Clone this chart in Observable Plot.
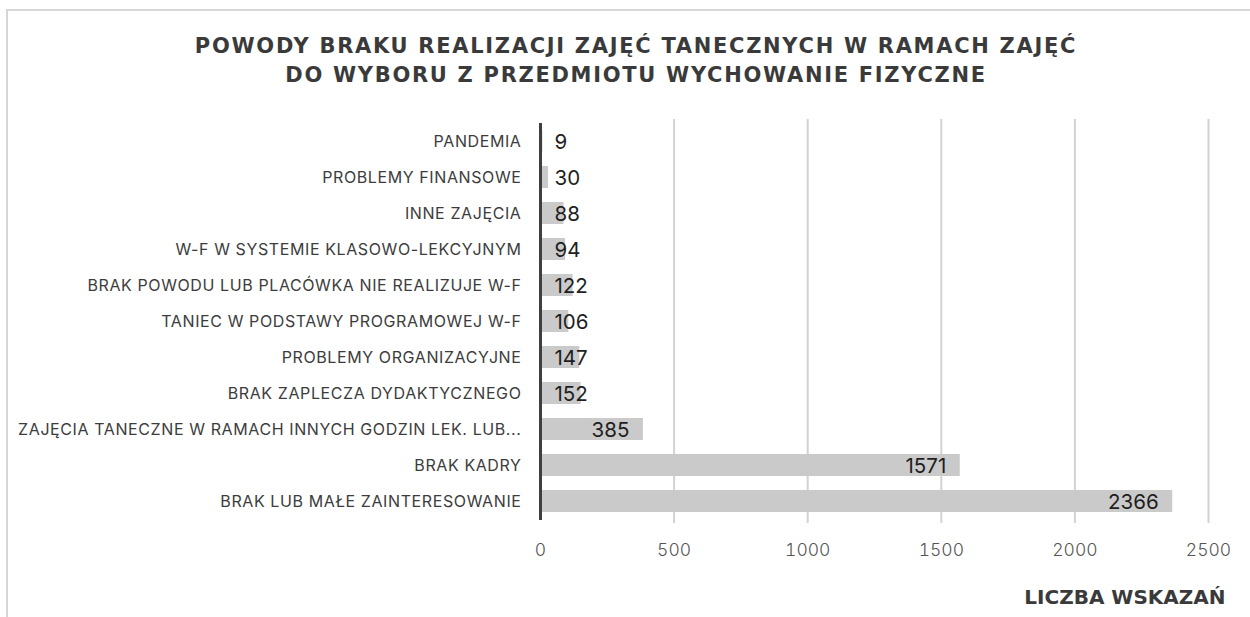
<!DOCTYPE html>
<html>
<head>
<meta charset="utf-8">
<script src="https://cdn.jsdelivr.net/npm/d3@7"></script>
<script src="https://cdn.jsdelivr.net/npm/@observablehq/plot@0.6"></script>
<style>
  html, body { margin: 0; padding: 0; background: #fff; }
  body { width: 1250px; height: 617px; position: relative; overflow: hidden; font-family: Inter, "Noto Sans", sans-serif; }
  #frame { position: absolute; left: 6px; top: 9px; width: 1260px; height: 640px; border: 2px solid #d6d6d6; box-sizing: border-box; }
  #title { position: absolute; left: 0; top: 32px; width: 1272px; text-align: center; font-family: "DejaVu Sans", sans-serif; font-weight: 700; font-size: 21px; letter-spacing: 1.7px; line-height: 29px; color: #3a3a3a; }
  #chart { position: absolute; left: 0; top: 0; }
  #chart g[aria-label="y-axis tick label"] text { letter-spacing: 0.6px; }
</style>
</head>
<body>
<div id="frame"></div>
<div id="title"></div>
<div id="chart"></div>
<script>
const titleLines = [
  "POWODY BRAKU REALIZACJI ZAJĘĆ TANECZNYCH W RAMACH ZAJĘĆ",
  "DO WYBORU Z PRZEDMIOTU WYCHOWANIE FIZYCZNE"
];
const categories = [
  "PANDEMIA",
  "PROBLEMY FINANSOWE",
  "INNE ZAJĘCIA",
  "W-F W SYSTEMIE KLASOWO-LEKCYJNYM",
  "BRAK POWODU LUB PLACÓWKA NIE REALIZUJE W-F",
  "TANIEC W PODSTAWY PROGRAMOWEJ W-F",
  "PROBLEMY ORGANIZACYJNE",
  "BRAK ZAPLECZA DYDAKTYCZNEGO",
  "ZAJĘCIA TANECZNE W RAMACH INNYCH GODZIN LEK. LUB...",
  "BRAK KADRY",
  "BRAK LUB MAŁE ZAINTERESOWANIE"
];
const values = [9, 30, 88, 94, 122, 106, 147, 152, 385, 1571, 2366];
const xTicks = [0, 500, 1000, 1500, 2000, 2500];
const xLabel = "LICZBA WSKAZAŃ";

document.getElementById("title").innerHTML = titleLines.join("<br>");

const data = categories.map((c, i) => ({category: c, value: values[i]}));
const small = data.filter(d => d.value < 200);
const large = data.filter(d => d.value >= 200);

const chart = Plot.plot({
  width: 1250,
  height: 617,
  marginLeft: 540,
  marginRight: 42,
  marginTop: 119,
  marginBottom: 94,
  style: {fontFamily: "Inter, 'Noto Sans', sans-serif", background: "transparent"},
  x: {domain: [0, 2500], ticks: xTicks, axis: null},
  y: {domain: categories, paddingInner: 0.4, paddingOuter: 0.25, axis: null},
  marks: [
    Plot.ruleX(xTicks.slice(1), {stroke: "#d2d2d2", strokeWidth: 2}),
    Plot.barX(data, {x: "value", y: "category", fill: "#cacaca"}),
    Plot.ruleX([0], {stroke: "#3f3f3f", strokeWidth: 3, insetTop: 4, insetBottom: 3}),
    Plot.axisY({tickSize: 0, tickPadding: 19, fontSize: 16, fill: "#3c3c3c", label: null}),
    Plot.axisX({ticks: xTicks, tickSize: 0, tickPadding: 20, fontSize: 17.5, fill: "#555", fontWeight: 300, label: null, tickFormat: d => String(d)}),
    Plot.text(small, {x: 0, y: "category", text: d => String(d.value), textAnchor: "start", dx: 14, dy: 1, fontSize: 20.5, fill: "#1e1e1e"}),
    Plot.text(large, {x: "value", y: "category", text: d => String(d.value), textAnchor: "end", dx: -14, dy: 1, fontSize: 20.5, fill: "#1e1e1e"}),
    Plot.text([xLabel], {frameAnchor: "bottom-right", text: d => d, textAnchor: "end", dx: 17, dy: 80, fontSize: 20, fontWeight: 700, fontFamily: "'DejaVu Sans', sans-serif", fill: "#3a3a3a"})
  ]
});
document.getElementById("chart").appendChild(chart);
</script>
</body>
</html>
